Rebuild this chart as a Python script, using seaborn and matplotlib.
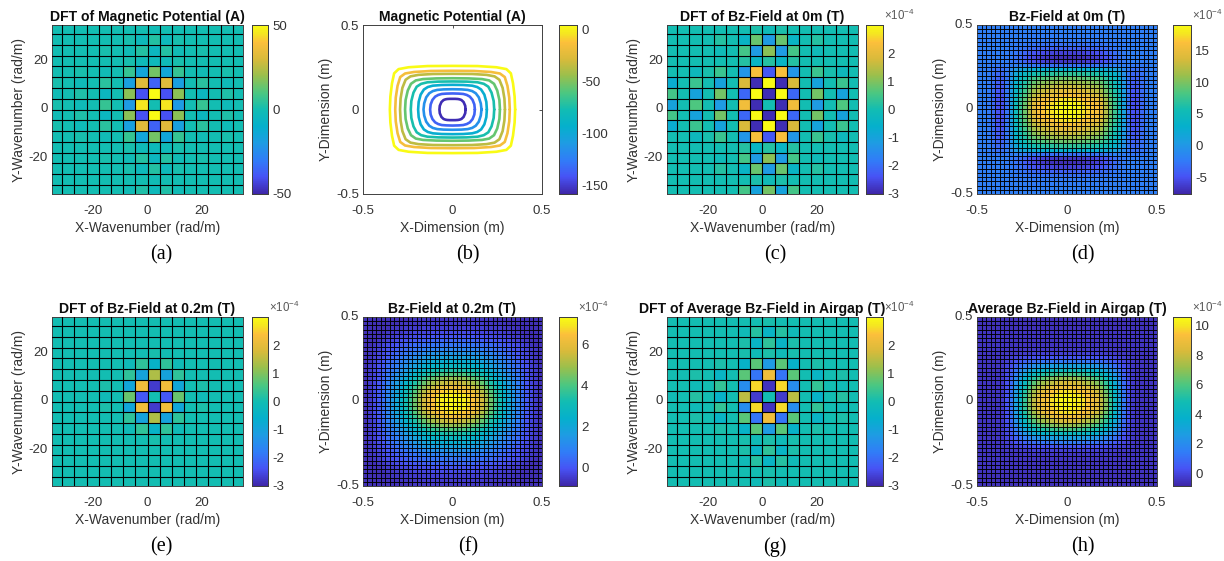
import numpy as np
import pandas as pd
import seaborn as sns
import matplotlib.pyplot as plt
from matplotlib.colors import LinearSegmentedColormap

sns.set_style('white')
plt.rcParams['font.family'] = ['Liberation Sans', 'DejaVu Sans']
plt.rcParams['mathtext.fontset'] = 'custom'
plt.rcParams['mathtext.rm'] = 'Liberation Sans'

W, H = 1224, 561
DK = 4.46  # rad/m per DFT cell

# DFT panels: quarter of the symmetric pattern, rows = |dy|, columns = |dx| from the centre cell
dft_a = [
    [0, 45, -20, 0, 6, 0, -2, 0, 1],
    [50, -40, 18, 0, -5, 0, 2, 0, -1],
    [-36, 32, -18, 0, 4, 0, -2, 0, 1],
    [15, -15, 6, 0, -1, 0, 1, 0, 0],
    [-3, -2, 1, 0, 0, 0, 0, 0, 0],
    [-5, 3, -1, 0, 1, 0, 0, 0, 0],
    [3, -3, 1, 0, 0, 0, 0, 0, 0],
    [-1, 0, 0, 0, 0, 0, 0, 0, 0],
    [-3, 2, -1, 0, 0, 0, 0, 0, 0],
]
dft_c = [
    [0, -2.9, 2.2, 0, -1.2, 0, 0.6, 0, -1.0],
    [-2.9, 3, -2.1, 0, 0.9, 0, -1.0, 0, 0.5],
    [3, -2.9, 1.8, 0, -1.0, 0, 0.4, 0, -0.7],
    [-2.3, 2.3, -1.3, 0, 0.4, 0.05, -0.2, 0, 0],
    [0.2, -0.4, 0.2, 0, 0, 0, 0, 0, 0],
    [1.1, -1.2, 0.5, 0, -0.1, 0, 0, 0, 0],
    [-1.2, 0.8, -0.4, 0, 0.2, 0, 0, 0, 0],
    [-0.1, 0.1, 0, 0, 0, 0, 0, 0, 0],
    [0.9, -1.0, 0.5, 0, 0, 0, 0, 0, 0],
]
dft_e = [
    [0, -2.3, 0.8, 0, -0.1, 0, 0, 0, 0],
    [-2.7, 2.2, -0.9, 0, 0.1, 0, 0, 0, 0],
    [1.4, -1.0, 0.3, 0, 0, 0, 0, 0, 0],
    [-0.5, 0.3, -0.1, 0, 0, 0, 0, 0, 0],
    [0.05, 0, 0, 0, 0, 0, 0, 0, 0],
    [0, 0, 0, 0, 0, 0, 0, 0, 0],
    [0, 0, 0, 0, 0, 0, 0, 0, 0],
    [0, 0, 0, 0, 0, 0, 0, 0, 0],
    [0, 0, 0, 0, 0, 0, 0, 0, 0],
]
dft_g = [
    [0, -2.7, 1.5, 0, -0.5, 0, 0.2, 0, -0.05],
    [-2.8, 2.6, -1.5, 0, 0.35, 0, -0.1, 0, 0],
    [2.2, -1.9, 0.7, 0, -0.4, 0, 0.1, 0, 0],
    [-1.2, 0.7, -0.5, 0, 0.1, 0, 0, 0, 0],
    [0.1, -0.1, 0.05, 0, 0, 0, 0, 0, 0],
    [0.3, -0.4, 0.1, 0, 0, 0, 0, 0, 0],
    [-0.4, 0.2, -0.1, 0, 0, 0, 0, 0, 0],
    [0.05, 0, 0, 0, 0, 0, 0, 0, 0],
    [0.1, -0.1, 0, 0, 0, 0, 0, 0, 0],
]

# field panels: quarter of the 40x40 grid, row 0 / column 0 next to the centre
field_d = [
    [19, 18.8, 18.3, 17.5, 17, 16.5, 16, 14.5, 12, 9.5, 7.5, 5, 1, -3, -5, -5, -3.5, -2.5, -2, -2],
    [18.6, 18.4, 17.9, 17.2, 16.7, 16.2, 15.6, 14.2, 11.8, 9.3, 7.4, 4.9, 1, -3, -5, -5, -3.5, -2.5, -2, -2],
    [17.5, 17.3, 16.9, 16.3, 15.8, 15.3, 14.7, 13.4, 11.2, 8.9, 7.1, 4.7, 0.9, -2.9, -4.9, -4.9, -3.4, -2.5, -2, -2],
    [16, 15.8, 15.5, 15, 14.6, 14.1, 13.5, 12.4, 10.4, 8.3, 6.7, 4.4, 0.8, -2.8, -4.8, -4.8, -3.4, -2.5, -2, -2],
    [14.5, 14.4, 14.1, 13.7, 13.3, 12.9, 12.4, 11.4, 9.6, 7.7, 6.2, 4, 0.6, -2.7, -4.6, -4.6, -3.3, -2.4, -2, -2],
    [13, 12.9, 12.7, 12.3, 12, 11.6, 11.2, 10.3, 8.8, 7.1, 5.7, 3.6, 0.4, -2.7, -4.4, -4.4, -3.2, -2.4, -2, -2],
    [11.5, 11.4, 11.2, 10.9, 10.6, 10.3, 9.9, 9.2, 7.9, 6.4, 5.1, 3.2, 0.2, -2.7, -4.2, -4.2, -3.1, -2.4, -2, -2],
    [9.5, 9.4, 9.3, 9, 8.8, 8.5, 8.2, 7.7, 6.7, 5.5, 4.4, 2.6, -0.1, -2.7, -3.9, -3.9, -3, -2.3, -2, -2],
    [7, 7, 6.9, 6.7, 6.6, 6.4, 6.2, 5.8, 5.1, 4.2, 3.3, 1.8, -0.4, -2.6, -3.6, -3.6, -2.9, -2.3, -2, -2],
    [3, 3, 3, 2.9, 2.8, 2.7, 2.6, 2.4, 2.1, 1.7, 1.1, 0.3, -1, -2.5, -3.1, -3.2, -2.7, -2.3, -2, -2],
    [-3, -3, -3, -3, -3, -2.9, -2.8, -2.7, -2.5, -2.1, -1.8, -1.8, -2, -2.4, -2.6, -2.7, -2.5, -2.2, -2, -2],
    [-6.5, -6.5, -6.4, -6.3, -6.1, -5.9, -5.6, -5.2, -4.6, -3.9, -3.2, -2.8, -2.5, -2.3, -2.2, -2.3, -2.2, -2.1, -2, -2],
    [-7, -7, -6.9, -6.8, -6.6, -6.3, -6, -5.5, -4.9, -4.2, -3.5, -2.9, -2.5, -2.2, -2, -2, -2, -2, -2, -2],
    [-6, -6, -5.9, -5.8, -5.6, -5.4, -5.1, -4.7, -4.2, -3.7, -3.2, -2.7, -2.4, -2.1, -2, -2, -2, -2, -2, -2],
    [-4, -4, -4, -3.9, -3.8, -3.7, -3.6, -3.4, -3.2, -2.9, -2.6, -2.4, -2.2, -2.1, -2, -2, -2, -2, -2, -2],
    [-3, -3, -3, -3, -3, -2.9, -2.9, -2.8, -2.7, -2.5, -2.4, -2.3, -2.1, -2, -2, -2, -2, -2, -2, -2],
    [-2.5, -2.5, -2.5, -2.5, -2.5, -2.5, -2.4, -2.4, -2.3, -2.3, -2.2, -2.1, -2, -2, -2, -2, -2, -2, -2, -2],
    [-2.2, -2.2, -2.2, -2.2, -2.2, -2.2, -2.2, -2.2, -2.1, -2.1, -2, -2, -2, -2, -2, -2, -2, -2, -2, -2],
    [-2, -2, -2, -2, -2, -2, -2, -2, -2, -2, -2, -2, -2, -2, -2, -2, -2, -2, -2, -2],
    [-2, -2, -2, -2, -2, -2, -2, -2, -2, -2, -2, -2, -2, -2, -2, -2, -2, -2, -2, -2],
]
field_f = [
    [7.3, 7.25, 7.1, 6.85, 6.5, 6.1, 5.6, 5, 4.4, 3.8, 3.2, 2.6, 2, 1.5, 1, 0.5, 0.1, -0.2, -0.5, -0.7],
    [7.2, 7.1, 7, 6.7, 6.4, 6, 5.5, 4.9, 4.3, 3.7, 3.1, 2.5, 2, 1.5, 1, 0.5, 0.1, -0.2, -0.5, -0.7],
    [6.8, 6.7, 6.6, 6.4, 6, 5.7, 5.2, 4.7, 4.1, 3.5, 3, 2.4, 1.9, 1.4, 0.9, 0.5, 0.1, -0.2, -0.5, -0.7],
    [6.2, 6.2, 6, 5.8, 5.5, 5.2, 4.8, 4.3, 3.8, 3.3, 2.8, 2.2, 1.7, 1.3, 0.9, 0.4, 0, -0.2, -0.5, -0.7],
    [5.6, 5.5, 5.4, 5.2, 5, 4.7, 4.3, 3.9, 3.4, 3, 2.5, 2, 1.6, 1.2, 0.8, 0.4, 0, -0.3, -0.5, -0.7],
    [4.8, 4.8, 4.7, 4.5, 4.3, 4.1, 3.8, 3.4, 3, 2.6, 2.2, 1.8, 1.4, 1, 0.7, 0.3, 0, -0.3, -0.5, -0.7],
    [4.1, 4, 4, 3.8, 3.7, 3.5, 3.2, 2.9, 2.6, 2.2, 1.9, 1.5, 1.2, 0.9, 0.6, 0.3, -0.1, -0.3, -0.5, -0.7],
    [3.4, 3.4, 3.3, 3.2, 3.1, 2.9, 2.7, 2.5, 2.2, 1.9, 1.6, 1.3, 1, 0.7, 0.5, 0.2, -0.1, -0.3, -0.5, -0.7],
    [2.8, 2.8, 2.7, 2.6, 2.5, 2.4, 2.3, 2, 1.8, 1.6, 1.3, 1.1, 0.8, 0.6, 0.4, 0.1, -0.1, -0.4, -0.5, -0.7],
    [2.3, 2.3, 2.2, 2.2, 2.1, 2, 1.8, 1.7, 1.5, 1.3, 1.1, 0.9, 0.7, 0.5, 0.3, 0, -0.2, -0.4, -0.6, -0.7],
    [1.8, 1.8, 1.8, 1.7, 1.6, 1.6, 1.5, 1.3, 1.2, 1, 0.9, 0.7, 0.5, 0.3, 0.1, -0.1, -0.3, -0.4, -0.6, -0.7],
    [1.4, 1.4, 1.3, 1.3, 1.3, 1.2, 1.1, 1, 0.9, 0.8, 0.6, 0.5, 0.3, 0.2, 0, -0.2, -0.3, -0.5, -0.6, -0.7],
    [1, 1, 1, 0.9, 0.9, 0.9, 0.8, 0.7, 0.6, 0.5, 0.4, 0.3, 0.2, 0, -0.1, -0.2, -0.4, -0.5, -0.6, -0.7],
    [0.6, 0.6, 0.6, 0.6, 0.6, 0.5, 0.5, 0.4, 0.4, 0.3, 0.2, 0.1, 0, -0.1, -0.2, -0.3, -0.5, -0.6, -0.7, -0.7],
    [0.3, 0.3, 0.3, 0.3, 0.3, 0.2, 0.2, 0.1, 0.1, 0, 0, -0.1, -0.2, -0.3, -0.4, -0.5, -0.6, -0.7, -0.7, -0.7],
    [0, 0, 0, 0, 0, -0.1, -0.1, -0.1, -0.2, -0.2, -0.3, -0.3, -0.4, -0.5, -0.5, -0.6, -0.7, -0.7, -0.7, -0.7],
    [-0.2, -0.2, -0.2, -0.2, -0.2, -0.3, -0.3, -0.3, -0.3, -0.4, -0.4, -0.5, -0.5, -0.6, -0.6, -0.7, -0.7, -0.7, -0.7, -0.7],
    [-0.4, -0.4, -0.4, -0.4, -0.4, -0.4, -0.4, -0.5, -0.5, -0.5, -0.5, -0.6, -0.6, -0.6, -0.7, -0.7, -0.7, -0.7, -0.7, -0.7],
    [-0.5, -0.5, -0.5, -0.5, -0.5, -0.5, -0.5, -0.6, -0.6, -0.6, -0.6, -0.6, -0.7, -0.7, -0.7, -0.7, -0.7, -0.7, -0.7, -0.7],
    [-0.6, -0.6, -0.6, -0.6, -0.6, -0.6, -0.6, -0.6, -0.6, -0.7, -0.7, -0.7, -0.7, -0.7, -0.7, -0.7, -0.7, -0.7, -0.7, -0.7],
]
field_h = [
    [10.5, 10.4, 10.2, 9.9, 9.5, 9.1, 8.6, 7.8, 6.8, 5.5, 4.2, 2.8, 1.3, 0.3, -0.3, -0.5, -0.5, -0.5, -0.5, -0.5],
    [10.3, 10.2, 10, 9.7, 9.3, 8.9, 8.4, 7.6, 6.7, 5.4, 4.1, 2.7, 1.3, 0.3, -0.3, -0.5, -0.5, -0.5, -0.5, -0.5],
    [9.9, 9.8, 9.6, 9.3, 8.9, 8.6, 8.1, 7.3, 6.4, 5.2, 3.9, 2.6, 1.2, 0.2, -0.3, -0.5, -0.5, -0.5, -0.5, -0.5],
    [9.1, 9, 8.9, 8.6, 8.3, 7.9, 7.5, 6.8, 5.9, 4.8, 3.6, 2.4, 1.1, 0.2, -0.3, -0.5, -0.5, -0.5, -0.5, -0.5],
    [8.3, 8.2, 8.1, 7.8, 7.5, 7.2, 6.8, 6.2, 5.4, 4.3, 3.3, 2.2, 1, 0.2, -0.3, -0.5, -0.5, -0.5, -0.5, -0.5],
    [7.1, 7.1, 6.9, 6.7, 6.5, 6.2, 5.8, 5.3, 4.6, 3.7, 2.8, 1.9, 0.8, 0.1, -0.3, -0.5, -0.5, -0.5, -0.5, -0.5],
    [5.9, 5.8, 5.7, 5.5, 5.3, 5.1, 4.8, 4.4, 3.8, 3.1, 2.4, 1.5, 0.7, 0.1, -0.3, -0.5, -0.5, -0.5, -0.5, -0.5],
    [4.4, 4.4, 4.3, 4.2, 4, 3.8, 3.6, 3.3, 2.9, 2.3, 1.8, 1.2, 0.5, 0, -0.3, -0.5, -0.5, -0.5, -0.5, -0.5],
    [2.8, 2.8, 2.8, 2.7, 2.6, 2.5, 2.3, 2.1, 1.8, 1.5, 1.1, 0.7, 0.2, -0.1, -0.4, -0.5, -0.5, -0.5, -0.5, -0.5],
    [1.4, 1.4, 1.3, 1.3, 1.2, 1.2, 1.1, 1, 0.9, 0.7, 0.5, 0.3, 0, -0.2, -0.4, -0.5, -0.5, -0.5, -0.5, -0.5],
    [0.4, 0.4, 0.4, 0.4, 0.3, 0.3, 0.3, 0.2, 0.2, 0.1, 0, -0.1, -0.2, -0.3, -0.4, -0.5, -0.5, -0.5, -0.5, -0.5],
    [-0.2, -0.2, -0.2, -0.2, -0.2, -0.2, -0.2, -0.2, -0.3, -0.3, -0.3, -0.4, -0.4, -0.4, -0.5, -0.5, -0.5, -0.5, -0.5, -0.5],
    [-0.4, -0.4, -0.4, -0.4, -0.4, -0.4, -0.4, -0.4, -0.4, -0.4, -0.5, -0.5, -0.5, -0.5, -0.5, -0.5, -0.5, -0.5, -0.5, -0.5],
    [-0.5, -0.5, -0.5, -0.5, -0.5, -0.5, -0.5, -0.5, -0.5, -0.5, -0.5, -0.5, -0.5, -0.5, -0.5, -0.5, -0.5, -0.5, -0.5, -0.5],
    [-0.5, -0.5, -0.5, -0.5, -0.5, -0.5, -0.5, -0.5, -0.5, -0.5, -0.5, -0.5, -0.5, -0.5, -0.5, -0.5, -0.5, -0.5, -0.5, -0.5],
    [-0.5, -0.5, -0.5, -0.5, -0.5, -0.5, -0.5, -0.5, -0.5, -0.5, -0.5, -0.5, -0.5, -0.5, -0.5, -0.5, -0.5, -0.5, -0.5, -0.5],
    [-0.5, -0.5, -0.5, -0.5, -0.5, -0.5, -0.5, -0.5, -0.5, -0.5, -0.5, -0.5, -0.5, -0.5, -0.5, -0.5, -0.5, -0.5, -0.5, -0.5],
    [-0.6, -0.6, -0.6, -0.6, -0.6, -0.6, -0.6, -0.6, -0.6, -0.6, -0.6, -0.6, -0.6, -0.6, -0.6, -0.6, -0.6, -0.6, -0.6, -0.6],
    [-0.6, -0.6, -0.6, -0.6, -0.6, -0.6, -0.6, -0.6, -0.6, -0.6, -0.6, -0.6, -0.6, -0.6, -0.6, -0.6, -0.6, -0.6, -0.6, -0.6],
    [-0.6, -0.6, -0.6, -0.6, -0.6, -0.6, -0.6, -0.6, -0.6, -0.6, -0.6, -0.6, -0.6, -0.6, -0.6, -0.6, -0.6, -0.6, -0.6, -0.6],
]

# contour lines of panel b, first quadrant, one list per level
contour_levels = [5, -15, -35, -55, -75, -95, -115, -135, -155]
contour_x = [
    [.350, .347, .338, .326, .301, .245, .140, 0],
    [.320, .317, .307, .292, .265, .215, .120, 0],
    [.293, .290, .280, .262, .235, .190, .110, 0],
    [.265, .262, .250, .232, .205, .165, .090, 0],
    [.233, .230, .218, .200, .175, .140, .080, 0],
    [.192, .189, .178, .160, .138, .110, .060, 0],
    [.162, .158, .147, .130, .110, .085, .050, 0],
    [.125, .122, .112, .097, .080, .060, .035, 0],
    [.073, .071, .062, .050, .040, .030, .015, 0],
]
contour_y = [
    [0, .077, .155, .214, .239, .250, .257, .258],
    [0, .070, .140, .192, .213, .222, .228, .229],
    [0, .065, .128, .176, .196, .205, .210, .211],
    [0, .056, .112, .152, .172, .180, .184, .185],
    [0, .050, .100, .135, .152, .161, .165, .166],
    [0, .045, .088, .118, .133, .141, .145, .146],
    [0, .036, .072, .096, .109, .116, .119, .120],
    [0, .030, .057, .076, .086, .092, .094, .095],
    [0, .022, .044, .056, .060, .062, .063, .063],
]

parula = LinearSegmentedColormap.from_list('parula', [
    (0.00, (.2422, .1504, .6603)), (0.10, (.2810, .3228, .9579)),
    (0.20, (.1900, .4900, .9700)), (0.30, (.1200, .6100, .8900)),
    (0.40, (.0200, .6900, .8000)), (0.50, (.0700, .7400, .7000)),
    (0.60, (.3000, .7800, .5000)), (0.70, (.6000, .7500, .3000)),
    (0.80, (.8500, .7300, .2300)), (0.90, (.9900, .7500, .2300)),
    (0.95, (.9600, .9000, .1300)), (1.00, (.9769, .9839, .0805)),
])

fig = plt.figure(figsize=(W / 100, H / 100), dpi=100)


def px_axes(x0, x1, y0, y1):
    return fig.add_axes([x0 / W, 1 - y1 / H, (x1 - x0) / W, (y1 - y0) / H])


def style(ax, title, xlab, ylab, xt, yt, ticklabs):
    ax.set_title(title, fontsize=10.1, fontweight='bold', color='0.05', pad=3)
    ax.set_xlabel(xlab, fontsize=10, color='0.2', labelpad=2.5)
    ax.set_ylabel(ylab, fontsize=10, color='0.2', labelpad=2)
    ax.set_xticks(xt, ticklabs, rotation=0)
    ax.set_yticks(yt, ticklabs, rotation=0)
    ax.tick_params(length=2, width=0.6, direction='in', labelsize=9.5, colors='0.2', pad=3)
    ax.tick_params(axis='x', pad=8)
    for s in ax.spines.values():
        s.set_visible(True)
        s.set_linewidth(0.7)
        s.set_color('0.25')


def style_cbar(cax, ticks, offset):
    cax.set_yticks(ticks, [str(t) for t in ticks])
    cax.tick_params(length=2, width=0.6, direction='in', labelsize=9.5, colors='0.2', pad=3)
    for s in cax.spines.values():
        s.set_visible(True)
        s.set_linewidth(0.7)
        s.set_color('0.25')
    if offset:
        pos = cax.get_position()
        fig.text(pos.x1 + 1 / W, pos.y1 + 10 / H, r'$\times\mathregular{10^{-4}}$',
                 fontsize=8.3, color='0.35', va='center')


def cell_lines(ax, n, lw):
    ax.hlines(np.arange(1, n), 0, n, color='black', linewidth=lw, zorder=3)
    ax.vlines(np.arange(1, n), 0, n, color='black', linewidth=lw, zorder=3)


def dft_panel(quarter, box, cbox, title, vmin, vmax, ticks, offset):
    q = np.array(quarter)
    grid = [[q[abs(r)][abs(c)] for c in range(-8, 8)] for r in range(-8, 8)]
    ax = px_axes(*box)
    cax = px_axes(*cbox)
    sns.heatmap(pd.DataFrame(grid), ax=ax, cbar_ax=cax, cmap=parula, vmin=vmin, vmax=vmax)
    cell_lines(ax, 16, 0.8)
    ax.set_xlim(8 - 35 / DK, 8 + 35 / DK)
    ax.set_ylim(8 - 35 / DK, 8 + 35 / DK)
    pos = [8 - 20 / DK, 8, 8 + 20 / DK]
    style(ax, title, 'X-Wavenumber (rad/m)', 'Y-Wavenumber (rad/m)', pos, pos, ['-20', '0', '20'])
    style_cbar(cax, ticks, offset)


def field_panel(quarter, box, cbox, title, vmin, vmax, ticks):
    q = np.array(quarter)
    top = np.hstack([q[:, ::-1], q])
    grid = np.vstack([top[::-1], top])
    ax = px_axes(*box)
    cax = px_axes(*cbox)
    sns.heatmap(pd.DataFrame(grid), ax=ax, cbar_ax=cax, cmap=parula, vmin=vmin, vmax=vmax)
    cell_lines(ax, 40, 0.65)
    ax.set_xlim(0, 40)
    ax.set_ylim(0, 40)
    style(ax, title, 'X-Dimension (m)', 'Y-Dimension (m)', [0, 20, 40], [0, 20, 40], ['-0.5', '0', '0.5'])
    style_cbar(cax, ticks, True)


R1 = (25, 194)
R2 = (317, 486)
C_A = (52, 243, 252, 268)
C_B = (363, 542, 559, 577)
C_C = (667, 858, 866, 883)
C_D = (977, 1157, 1173, 1191)


def boxes(col, row):
    return (col[0], col[1], row[0], row[1]), (col[2], col[3], row[0], row[1])


box, cbox = boxes(C_A, R1)
dft_panel(dft_a, box, cbox, 'DFT of Magnetic Potential (A)', -50, 50, [-50, 0, 50], False)
box, cbox = boxes(C_C, R1)
dft_panel(dft_c, box, cbox, 'DFT of Bz-Field at 0m (T)', -3, 3, [-3, -2, -1, 0, 1, 2], True)
box, cbox = boxes(C_D, R1)
field_panel(field_d, box, cbox, 'Bz-Field at 0m (T)', -7.6, 19, [-5, 0, 5, 10, 15])

box, cbox = boxes(C_A, R2)
dft_panel(dft_e, box, cbox, 'DFT of Bz-Field at 0.2m (T)', -3, 3, [-3, -2, -1, 0, 1, 2], True)
box, cbox = boxes(C_B, R2)
field_panel(field_f, box, cbox, 'Bz-Field at 0.2m (T)', -0.89, 7.34, [0, 2, 4, 6])
box, cbox = boxes(C_C, R2)
dft_panel(dft_g, box, cbox, 'DFT of Average Bz-Field in Airgap (T)', -3, 3, [-3, -2, -1, 0, 1, 2], True)
box, cbox = boxes(C_D, R2)
field_panel(field_h, box, cbox, 'Average Bz-Field in Airgap (T)', -0.88, 10.6, [0, 2, 4, 6, 8, 10])

# panel b, closed contour lines built from the first quadrant by mirroring
rows = []
for lev, xs, ys in zip(contour_levels, contour_x, contour_y):
    xs = np.array(xs)
    ys = np.array(ys)
    loop_x = np.concatenate([xs, -xs[::-1], -xs, xs[::-1]])
    loop_y = np.concatenate([ys, ys[::-1], -ys, -ys[::-1]])
    rows.append(pd.DataFrame({'x': loop_x, 'y': loop_y, 'level': lev}))
contours = pd.concat(rows)

box, cbox = boxes(C_B, R1)
ax_b = px_axes(*box)
cax_b = px_axes(*cbox)
sns.lineplot(data=contours, x='x', y='y', hue='level', palette=parula, hue_norm=(-157.7, 4.8),
             sort=False, estimator=None, legend=False, linewidth=1.9, ax=ax_b)
ax_b.set_xlim(-0.5, 0.5)
ax_b.set_ylim(-0.5, 0.5)
style(ax_b, 'Magnetic Potential (A)', 'X-Dimension (m)', 'Y-Dimension (m)',
      [-0.5, 0, 0.5], [-0.5, 0, 0.5], ['-0.5', '0', '0.5'])
ax_b.tick_params(top=True, right=True)
sm = plt.cm.ScalarMappable(cmap=parula, norm=plt.Normalize(-157.7, 4.8))
fig.colorbar(sm, cax=cax_b)
style_cbar(cax_b, [-150, -100, -50, 0], False)

captions = ['(a)', '(b)', '(c)', '(d)', '(e)', '(f)', '(g)', '(h)']
cap_x = [161, 468, 775, 1083, 161, 468, 775, 1083]
cap_y = [255, 255, 255, 255, 547, 547, 547, 547]
for c, cx, cy in zip(captions, cap_x, cap_y):
    fig.text(cx / W, 1 - cy / H, c, family='Liberation Serif', fontsize=14.5, color='black',
             ha='center', va='center')

fig.savefig('out.png', dpi=100)
